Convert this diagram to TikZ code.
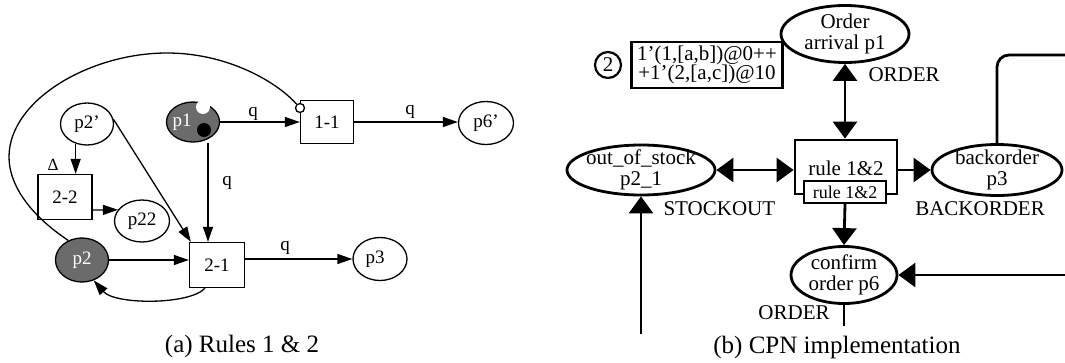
\documentclass[tikz,border=0pt]{standalone}
\usepackage{fontspec}
\setmainfont{Liberation Serif}
\usetikzlibrary{arrows.meta,shapes.geometric,calc}
\definecolor{pgray}{gray}{0.42}
\begin{document}
\begin{tikzpicture}[x=1pt,y=-1pt,
  lf/.style={font=\fontsize{19}{21}\selectfont},
  rf/.style={font=\fontsize{21}{21}\selectfont},
  capf/.style={font=\fontsize{25}{27}\selectfont},
  lplace/.style={draw,ellipse,line width=1.3pt,inner sep=0pt,lf},
  gplace/.style={lplace,fill=pgray,text=white},
  ltrans/.style={draw,rectangle,line width=1.3pt,inner sep=0pt,lf},
  lline/.style={line width=1.3pt},
  larr/.style={line width=1.3pt,-{Triangle[length=15pt,width=10pt]}},
  rplace/.style={draw,ellipse,line width=2.8pt,inner sep=0pt},
  rbox/.style={draw,rectangle,line width=2.8pt,inner sep=0pt,rf},
  rtext/.style={font=\fontsize{21}{20.5}\selectfont,align=center},
  rline/.style={line width=2.8pt},
  rarr/.style={line width=2.8pt,-{Triangle[length=17pt,width=24pt]}},
  rdbl/.style={line width=2.8pt,{Triangle[length=17pt,width=24pt]}-{Triangle[length=17pt,width=24pt]}},
  token/.style={circle,inner sep=0pt,minimum size=14pt}
]
\useasboundingbox (0,0) rectangle (1065,362);

% ---------------- (a) Rules 1 & 2 ----------------
\node[gplace,minimum width=53pt,minimum height=40pt] (p1) at (193,122) {};
\node[lf,text=white] (p1t) at (182,122) {p1};
\node[token,fill=white] (tokw) at (203,107) {};
\node[token,fill=black] (tokb) at (204,130) {};
\node[ltrans,minimum width=53pt,minimum height=43pt] (t11) at (327,122) {1-1};
\node[lplace,minimum width=55pt,minimum height=43pt] (p6p) at (486,123) {p6'};
\node[lplace,minimum width=53pt,minimum height=42pt] (p2p) at (87,124) {p2'};
\node[ltrans,minimum width=54pt,minimum height=45pt] (t22) at (65,197) {2-2};
\node[lplace,minimum width=55pt,minimum height=42pt] (p22) at (142,221) {p22};
\node[ltrans,minimum width=55pt,minimum height=45pt] (t21) at (217,265) {2-1};
\node[gplace,minimum width=53pt,minimum height=44pt] (p2) at (82,260) {p2};
\node[lplace,minimum width=54pt,minimum height=43pt] (p3) at (380,259) {\hspace*{-10pt}p3};
\node[circle,draw,fill=white,line width=1.3pt,minimum size=9pt,inner sep=0pt] (inh) at (300,108) {};
\node[font=\fontsize{17}{17}\selectfont] (delta) at (53,165) {Δ};

\coordinate (a1) at (9,157);
\coordinate (a2) at (167,53);
\draw[lline] (p2.125) .. controls (30,215) and (9,185) .. (a1)
  .. controls (9,100) and (90,53) .. (a2)
  .. controls (225,53) and (275,80) .. (inh);

\draw[larr] (p1.east) -- (t11.west);
\draw[larr] (t11.east) -- (t11.east -| p6p.west);
\draw[larr] ([xshift=15pt]p1.south) -- ([xshift=15pt]p1.south |- t21.north);
\draw[larr] (p2p.240) -- (p2p.240 |- t22.north);
\draw[larr] ([yshift=-13pt]t22.east) -- (p22.155);
\draw[larr] (p2p.10) -- ([xshift=2pt]t21.north west);
\draw[larr] (p2.east) -- (p2.east -| t21.west);
\draw[larr] (p3.west -| t21.east) -- (p3.west);
\draw[larr] ([xshift=-12pt]t21.south) .. controls (190,305) and (115,305) .. (p2.-60);

\node[lf] (q1) at (253,114) {q};
\node[lf] (q2) at (410,112) {q};
\node[lf] (q3) at (227,183) {q};
\node[lf] (q4) at (285,248) {q};

\node[capf] (capa) at (242,346) {(a) Rules 1 \& 2};

% ---------------- (b) CPN implementation ----------------
\node[rplace,minimum width=128pt,minimum height=57pt,label={[rtext]center:Order\\arrival p1}] (oa) at (845,34) {};
\node[rbox,minimum width=151pt,minimum height=46pt,align=center,font=\fontsize{21}{19.5}\selectfont] (tok) at (707,65) {1'(1,[a,b])@0++\\+1'(2,[a,c])@10};
\node[circle,draw,line width=2.2pt,minimum size=26pt,inner sep=0pt,rf] (tc) at (608,65) {2};
\node[rbox,minimum width=102pt,minimum height=54pt,label={[rf,yshift=-1pt]center:rule 1\&2}] (rule) at (846,167) {};
\node[draw,rectangle,fill=white,line width=2.2pt,minimum width=82pt,minimum height=22pt,inner sep=0pt,font=\fontsize{18}{18}\selectfont] (rulein) at (845,192) {rule 1\&2};
\node[rplace,minimum width=148pt,minimum height=50pt,label={[rtext]center:out\_of\_stock\\p2\_1}] (oos) at (641,170) {};
\node[rplace,minimum width=130pt,minimum height=51pt,label={[rtext]center:backorder\\p3}] (bo) at (997,170) {};
\node[rplace,minimum width=106pt,minimum height=57pt,label={[rtext]center:confirm\\order p6}] (conf) at (844,275) {};

\node[rf,anchor=west] (lorder) at (865,75) {ORDER};
\node[rf,anchor=west] (lstock) at (660,209) {STOCKOUT};
\node[rf] (lback) at (980,209) {BACKORDER};
\node[rf] (lorder2) at (794,313) {ORDER};

\coordinate (tr) at (1066,55);
\coordinate (bl) at (641,334);
\coordinate (rr) at (1066,275);
\coordinate (cb) at (844,326);

\draw[rdbl] (oa.south) -- (oa.south |- rule.north);
\draw[rdbl] (oos.east) -- (oos.east -| rule.west);
\draw[rarr] (rule.east |- bo.west) -- (bo.west);
\draw[rarr] (rulein.south) -- (conf.north);
\draw[rline,rounded corners=12pt] (bo.north) |- (tr);
\draw[rarr] (bl) -- (oos.south);
\draw[rarr] (rr) -- (conf.east);
\draw[rline] (conf.south) -- (cb);

\node[capf] (capb) at (837,347) {(b) CPN implementation};
\end{tikzpicture}
\end{document}
